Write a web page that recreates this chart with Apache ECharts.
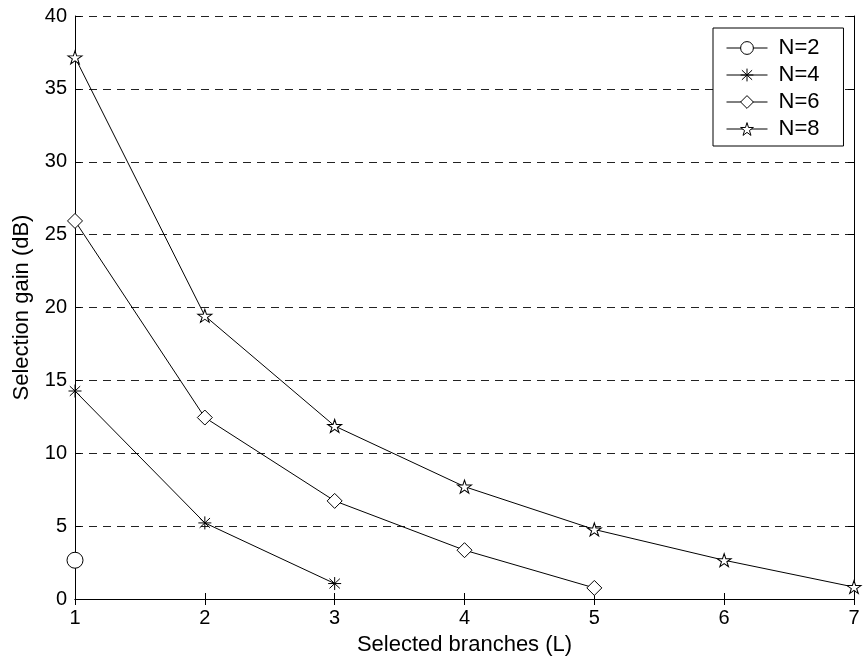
<!DOCTYPE html>
<html>
<head>
<meta charset="utf-8">
<script src="https://cdn.jsdelivr.net/npm/echarts@6/dist/echarts.min.js"></script>
<style>
  html, body { margin: 0; padding: 0; background: #fff; }
  #chart { width: 863px; height: 662px; }
</style>
</head>
<body>
<div id="chart"></div>
<script>
// Selected branches L (x positions)
const branches = [1, 2, 3, 4, 5, 6, 7];
// Selection gain in dB for each total branch count N
const gainN2 = [2.66];
const gainN4 = [14.27, 5.22, 1.06];
const gainN6 = [25.94, 12.45, 6.73, 3.35, 0.76];
const gainN8 = [37.16, 19.43, 11.87, 7.71, 4.77, 2.66, 0.82];
const seriesNames = ['N=2', 'N=4', 'N=6', 'N=8'];
const yTicks = [0, 5, 10, 15, 20, 25, 30, 35, 40];

const FONT = 'Liberation Sans, Arial, Helvetica, sans-serif';

// marker shapes
const starPath = 'path://M0,-1L0.2245,-0.309L0.951,-0.309L0.363,0.118L0.588,0.809L0,0.382L-0.588,0.809L-0.363,0.118L-0.951,-0.309L-0.2245,-0.309Z';
const asteriskPath = 'path://M0,-1L0,1M-1,0L1,0M-0.8,-0.75L0.8,0.75M-0.8,0.75L0.8,-0.75';
const diamondPath = 'path://M0,-1L1,0L0,1L-1,0Z';

function pairs(values) {
  return values.map((v, i) => [branches[i], v]);
}

function lineSeries(name, values, symbol, size) {
  return {
    name: name,
    type: 'line',
    data: pairs(values),
    symbol: symbol,
    symbolSize: size,
    showAllSymbol: true,
    lineStyle: { color: '#000', width: 1 },
    itemStyle: { color: '#fff', borderColor: '#000', borderWidth: 1 },
    emphasis: { disabled: true },
    z: 3
  };
}

const chart = echarts.init(document.getElementById('chart'), null, { renderer: 'canvas' });

const labelStyle = { color: '#000', fontFamily: FONT, fontSize: 20 };

chart.setOption({
  animation: false,
  backgroundColor: '#fff',
  grid: { left: 75, right: 9, top: 16, bottom: 63, containLabel: false },
  legend: {
    data: seriesNames,
    orient: 'vertical',
    left: 713,
    top: 28,
    padding: [9, 24, 6, 13],
    itemWidth: 41,
    itemHeight: 16,
    itemGap: 5,
    backgroundColor: '#fff',
    borderColor: '#000',
    borderWidth: 1,
    lineStyle: { width: 1, color: '#000' },
    itemStyle: { borderWidth: 1, borderColor: '#000', color: '#fff' },
    textStyle: { color: '#000', fontFamily: FONT, fontSize: 22, padding: [0, 0, 0, 6] }
  },
  xAxis: [
    {
      type: 'value',
      min: 1, max: 7, interval: 1,
      name: 'Selected branches (L)',
      nameLocation: 'middle',
      nameGap: 35,
      nameTextStyle: { color: '#000', fontFamily: FONT, fontSize: 22 },
      axisLine: { show: true, lineStyle: { color: '#000', width: 1 } },
      axisTick: { show: true, inside: true, length: 6, lineStyle: { color: '#000' } },
      axisLabel: Object.assign({ margin: 9 }, labelStyle),
      splitLine: { show: false }
    },
    {
      type: 'value',
      position: 'top',
      min: 1, max: 7, interval: 1,
      axisLine: { show: true, lineStyle: { color: '#000', width: 1 } },
      axisTick: { show: true, inside: true, length: 6, lineStyle: { color: '#000' } },
      axisLabel: { show: false },
      splitLine: { show: false }
    }
  ],
  yAxis: [
    {
      type: 'value',
      min: yTicks[0], max: yTicks[yTicks.length - 1], interval: 5,
      name: 'Selection gain (dB)',
      nameLocation: 'middle',
      nameGap: 42,
      nameTextStyle: { color: '#000', fontFamily: FONT, fontSize: 22 },
      axisLine: { show: true, lineStyle: { color: '#000', width: 1 } },
      axisTick: { show: true, inside: true, length: 6, lineStyle: { color: '#000' } },
      axisLabel: Object.assign({ margin: 8 }, labelStyle),
      splitLine: { show: true, lineStyle: { color: '#222', width: 1, type: [8, 6] } }
    },
    {
      type: 'value',
      position: 'right',
      min: yTicks[0], max: yTicks[yTicks.length - 1], interval: 5,
      axisLine: { show: true, lineStyle: { color: '#000', width: 1 } },
      axisTick: { show: true, inside: true, length: 6, lineStyle: { color: '#000' } },
      axisLabel: { show: false },
      splitLine: { show: false }
    }
  ],
  series: [
    lineSeries(seriesNames[0], gainN2, 'circle', 16),
    lineSeries(seriesNames[1], gainN4, asteriskPath, 13),
    lineSeries(seriesNames[2], gainN6, diamondPath, 15),
    lineSeries(seriesNames[3], gainN8, starPath, [14, 13])
  ]
});
</script>
</body>
</html>
